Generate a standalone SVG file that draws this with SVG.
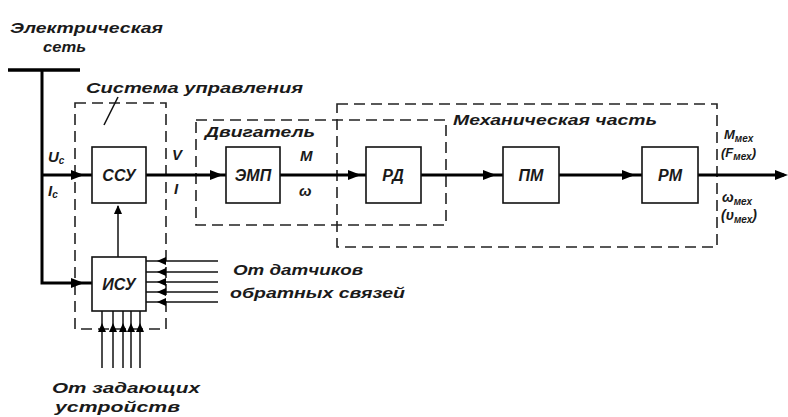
<svg xmlns="http://www.w3.org/2000/svg" width="788" height="417" viewBox="0 0 788 417">
<style>
text{font-family:"Liberation Sans",Arial,sans-serif;font-style:italic;font-weight:bold;fill:#1a1a1a;}
.box{fill:#fff;stroke:#111;stroke-width:1.6;}
.dash{fill:none;stroke:#222;stroke-width:1.6;stroke-dasharray:11 6;}
.main{fill:none;stroke:#000;stroke-width:3;}
.thin{fill:none;stroke:#111;stroke-width:1.5;}
.lbl{font-size:15px;}
.grp{font-size:14px;}
.blk{font-size:16px;}
.sub{font-size:10px;}
</style>
<defs>
<path id="ahR" d="M0,0 L-13,-5 L-13,5 Z" fill="#000"/>
<path id="ahS" d="M0,0 L-9,-4 L-9,4 Z" fill="#000"/>
</defs>

<!-- dashed groupings -->
<g id="group-system">
<rect class="dash" x="75" y="103" width="91" height="226"/>
<text class="lbl" x="86" y="93" textLength="217" lengthAdjust="spacingAndGlyphs">Система управления</text>
<line class="thin" x1="118" y1="97" x2="104" y2="125"/>
</g>
<g id="group-motor">
<rect class="dash" x="196" y="120" width="250" height="105"/>
<text class="grp" x="205" y="137" textLength="110" lengthAdjust="spacingAndGlyphs">Двигатель</text>
</g>
<g id="group-mech">
<rect class="dash" x="337" y="104" width="380" height="143"/>
<text class="grp" x="453" y="125" textLength="204" lengthAdjust="spacingAndGlyphs">Механическая часть</text>
</g>

<!-- connectors -->
<g id="connectors">
<line x1="8" y1="70" x2="80" y2="70" stroke="#000" stroke-width="3.5"/>
<polyline class="main" points="42,70 42,283 92,283"/>
<line class="main" x1="42" y1="175" x2="92" y2="175"/>
<line class="main" x1="146" y1="175" x2="226" y2="175"/>
<line class="main" x1="280" y1="175" x2="366" y2="175"/>
<line class="main" x1="421" y1="175" x2="503" y2="175"/>
<line class="main" x1="559" y1="175" x2="642" y2="175"/>
<line class="main" x1="698" y1="175" x2="784" y2="175"/>
<use href="#ahR" x="84" y="175"/>
<use href="#ahR" x="84" y="283"/>
<use href="#ahR" x="223" y="175"/>
<use href="#ahR" x="361" y="175"/>
<use href="#ahR" x="496" y="175"/>
<use href="#ahR" x="635" y="175"/>
<use href="#ahR" x="788" y="175"/>
<line class="thin" x1="118" y1="257" x2="118" y2="206"/>
<use href="#ahS" transform="translate(118,205) rotate(-90)"/>
<g class="fb">
<line class="thin" x1="146" y1="261" x2="218" y2="261"/>
<line class="thin" x1="146" y1="272" x2="218" y2="272"/>
<line class="thin" x1="146" y1="282" x2="218" y2="282"/>
<line class="thin" x1="146" y1="292" x2="218" y2="292"/>
<line class="thin" x1="146" y1="302" x2="218" y2="302"/>
<use href="#ahS" transform="translate(157,261) rotate(180)"/>
<use href="#ahS" transform="translate(157,272) rotate(180)"/>
<use href="#ahS" transform="translate(157,282) rotate(180)"/>
<use href="#ahS" transform="translate(157,292) rotate(180)"/>
<use href="#ahS" transform="translate(157,302) rotate(180)"/>
</g>
<g class="set">
<line class="thin" x1="102" y1="311" x2="102" y2="368"/>
<line class="thin" x1="113" y1="311" x2="113" y2="368"/>
<line class="thin" x1="123" y1="311" x2="123" y2="368"/>
<line class="thin" x1="131" y1="311" x2="131" y2="368"/>
<line class="thin" x1="140" y1="311" x2="140" y2="368"/>
<use href="#ahS" transform="translate(102,323) rotate(-90)"/>
<use href="#ahS" transform="translate(113,323) rotate(-90)"/>
<use href="#ahS" transform="translate(123,323) rotate(-90)"/>
<use href="#ahS" transform="translate(131,323) rotate(-90)"/>
<use href="#ahS" transform="translate(140,323) rotate(-90)"/>
</g>
</g>

<!-- nodes -->
<g id="node-ssu"><rect class="box" x="92" y="147" width="54" height="56"/><text class="blk" x="119" y="181" text-anchor="middle">ССУ</text></g>
<g id="node-isu"><rect class="box" x="92" y="257" width="54" height="54"/><text class="blk" x="119" y="290" text-anchor="middle">ИСУ</text></g>
<g id="node-emp"><rect class="box" x="226" y="147" width="54" height="56"/><text class="blk" x="253" y="181" text-anchor="middle">ЭМП</text></g>
<g id="node-rd"><rect class="box" x="366" y="147" width="55" height="56"/><text class="blk" x="393" y="181" text-anchor="middle">РД</text></g>
<g id="node-pm"><rect class="box" x="503" y="147" width="56" height="56"/><text class="blk" x="531" y="181" text-anchor="middle">ПМ</text></g>
<g id="node-rm"><rect class="box" x="642" y="147" width="56" height="56"/><text class="blk" x="670" y="181" text-anchor="middle">РМ</text></g>

<!-- labels -->
<g id="labels">
<text class="lbl" x="10" y="33" textLength="153" lengthAdjust="spacingAndGlyphs">Электрическая</text>
<text class="lbl" x="43" y="52" textLength="43" lengthAdjust="spacingAndGlyphs">сеть</text>
<text class="lbl" x="48" y="162">U<tspan class="sub" dy="2">c</tspan></text>
<text class="lbl" x="48" y="196">I<tspan class="sub" dy="2">c</tspan></text>
<text class="lbl" x="172" y="160">V</text>
<text class="lbl" x="174" y="194">I</text>
<text class="lbl" x="300" y="161">M</text>
<text class="lbl" x="299" y="196">ω</text>
<text font-size="13" x="724" y="139">M<tspan class="sub" dy="3">мех</tspan></text>
<text font-size="13" x="721" y="157">(F<tspan class="sub" dy="3">мех</tspan><tspan dy="-3">)</tspan></text>
<text font-size="14" x="722" y="202">ω<tspan class="sub" dy="3">мех</tspan></text>
<text font-size="14" x="721" y="220">(υ<tspan class="sub" dy="3">мех</tspan><tspan dy="-3">)</tspan></text>
<text class="lbl" x="233" y="275" textLength="130" lengthAdjust="spacingAndGlyphs">От датчиков</text>
<text class="lbl" x="230" y="298" textLength="175" lengthAdjust="spacingAndGlyphs">обратных связей</text>
<text class="lbl" x="52" y="393" textLength="148" lengthAdjust="spacingAndGlyphs">От задающих</text>
<text class="lbl" x="55" y="412" textLength="125" lengthAdjust="spacingAndGlyphs">устройств</text>
</g>
</svg>
